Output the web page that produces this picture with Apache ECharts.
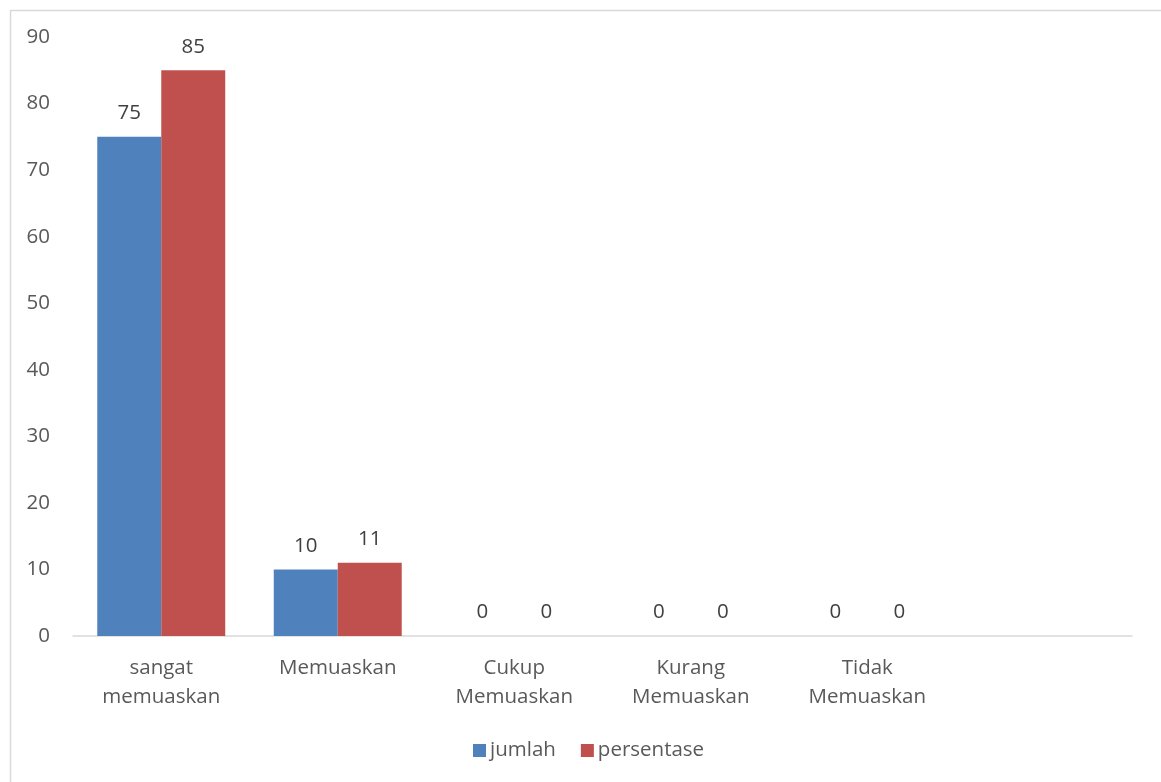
<!DOCTYPE html>
<html>
<head>
<meta charset="utf-8">
<script src="https://cdn.jsdelivr.net/npm/echarts@6/dist/echarts.min.js"></script>
<style>
html,body{margin:0;padding:0;background:#fff;}
#c{width:1161px;height:782px;}
</style>
</head>
<body>
<div id="c"></div>
<script>
const categories = ['sangat\nmemuaskan', 'Memuaskan', 'Cukup\nMemuaskan', 'Kurang\nMemuaskan', 'Tidak\nMemuaskan', ''];
const jumlah = [75, 10, 0, 0, 0, '-'];
const persentase = [85, 11, 0, 0, 0, '-'];
const yMin = 0, yMax = 90, yStep = 10;

const FONT = '"Open Sans", "Liberation Sans", sans-serif';
const TXT = '#595959';
const FS = 20.5;
const chart = echarts.init(document.getElementById('c'));
chart.setOption({
  animation: false,
  backgroundColor: '#fff',
  textStyle: { fontFamily: FONT },
  graphic: [{
    type: 'rect', left: 8, top: 8,
    shape: { width: 1152, height: 790 },
    style: { fill: 'none', stroke: '#d9d9d9', lineWidth: 1.5 },
    silent: true
  }],
  grid: { left: 73, right: 29, top: 37, bottom: 146 },
  legend: {
    bottom: 16, left: 468,
    itemWidth: 13, itemHeight: 13, itemGap: 25,
    icon: 'rect',
    textStyle: { fontFamily: FONT, fontSize: FS, color: TXT, padding: [0, 0, 0, -1] },
    data: ['jumlah', 'persentase']
  },
  xAxis: {
    type: 'category',
    data: categories,
    axisLine: { lineStyle: { color: '#d9d9d9', width: 1.5 } },
    axisTick: { show: false },
    axisLabel: { fontFamily: FONT, fontSize: FS, color: TXT, lineHeight: 29, margin: 18, interval: 0 }
  },
  yAxis: {
    type: 'value', min: yMin, max: yMax, interval: yStep,
    axisLine: { show: false }, axisTick: { show: false },
    splitLine: { show: false },
    axisLabel: { fontFamily: FONT, fontSize: FS, color: TXT, margin: 23 }
  },
  series: [
    {
      name: 'jumlah', type: 'bar', data: jumlah,
      barGap: '0%', barCategoryGap: '27.5%',
      itemStyle: { color: '#4F81BD' },
      label: { show: true, position: 'top', distance: 13, fontFamily: FONT, fontSize: FS, color: '#404040' }
    },
    {
      name: 'persentase', type: 'bar', data: persentase,
      itemStyle: { color: '#C0504D' },
      label: { show: true, position: 'top', distance: 13, fontFamily: FONT, fontSize: FS, color: '#404040' }
    }
  ]
});
</script>
</body>
</html>
